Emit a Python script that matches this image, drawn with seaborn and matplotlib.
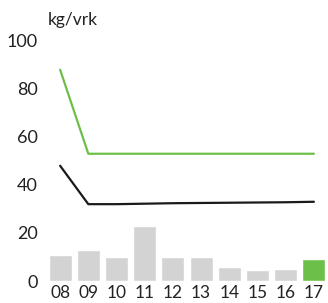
import matplotlib
matplotlib.use("Agg")
import matplotlib.pyplot as plt
import seaborn as sns
import pandas as pd

# values
years = ["08", "09", "10", "11", "12", "13", "14", "15", "16", "17"]
bar_vals = [11, 13, 10, 23, 10, 10, 6, 4.5, 5, 9]
green_line = [88, 53, 53, 53, 53, 53, 53, 53, 53, 53]
black_line = [48, 32, 32, 32.2, 32.4, 32.5, 32.6, 32.7, 32.8, 33]
y_ticks = [0, 20, 40, 60, 80, 100]

GREEN = "#6cc04a"
GREY = "#d3d3d4"

sns.set_theme(style="white")
plt.rcParams["font.family"] = ["Lato", "DejaVu Sans"]

df = pd.DataFrame({"year": years, "bar": bar_vals,
                   "green": green_line, "black": black_line})
df["x"] = range(len(years))
df["hl"] = ["old"] * (len(years) - 1) + ["new"]

fig = plt.figure(figsize=(3.28, 3.03), dpi=100)
ax = fig.add_axes([0.136, 0.0726, 0.864, 0.7924])

sns.barplot(data=df, x="year", y="bar", hue="hl", palette={"old": GREY, "new": GREEN},
            width=0.82, dodge=False, saturation=1, legend=False, ax=ax)
sns.lineplot(data=df, x="x", y="green", color=GREEN, lw=1.6, ax=ax)
sns.lineplot(data=df, x="x", y="black", color="#1a1a1a", lw=1.6, ax=ax)

ax.set_xlim(-0.55, 9.5)
ax.set_ylim(0, 100)
ax.set_yticks(y_ticks)
ax.set_yticklabels([str(v) for v in y_ticks])
ax.set_xticks(range(len(years)))
ax.set_xticklabels(years)
ax.tick_params(axis="both", length=0, labelsize=13, colors="#222222")
ax.tick_params(axis="y", pad=5)
ax.tick_params(axis="x", pad=3, labelsize=12.5)
ax.set_xlabel("")
ax.set_ylabel("")
sns.despine(ax=ax, left=True, bottom=True)

fig.text(0.146, 0.935, "kg/vrk", fontsize=12.5, color="#222222", va="center")

fig.savefig("out.png", dpi=100)
